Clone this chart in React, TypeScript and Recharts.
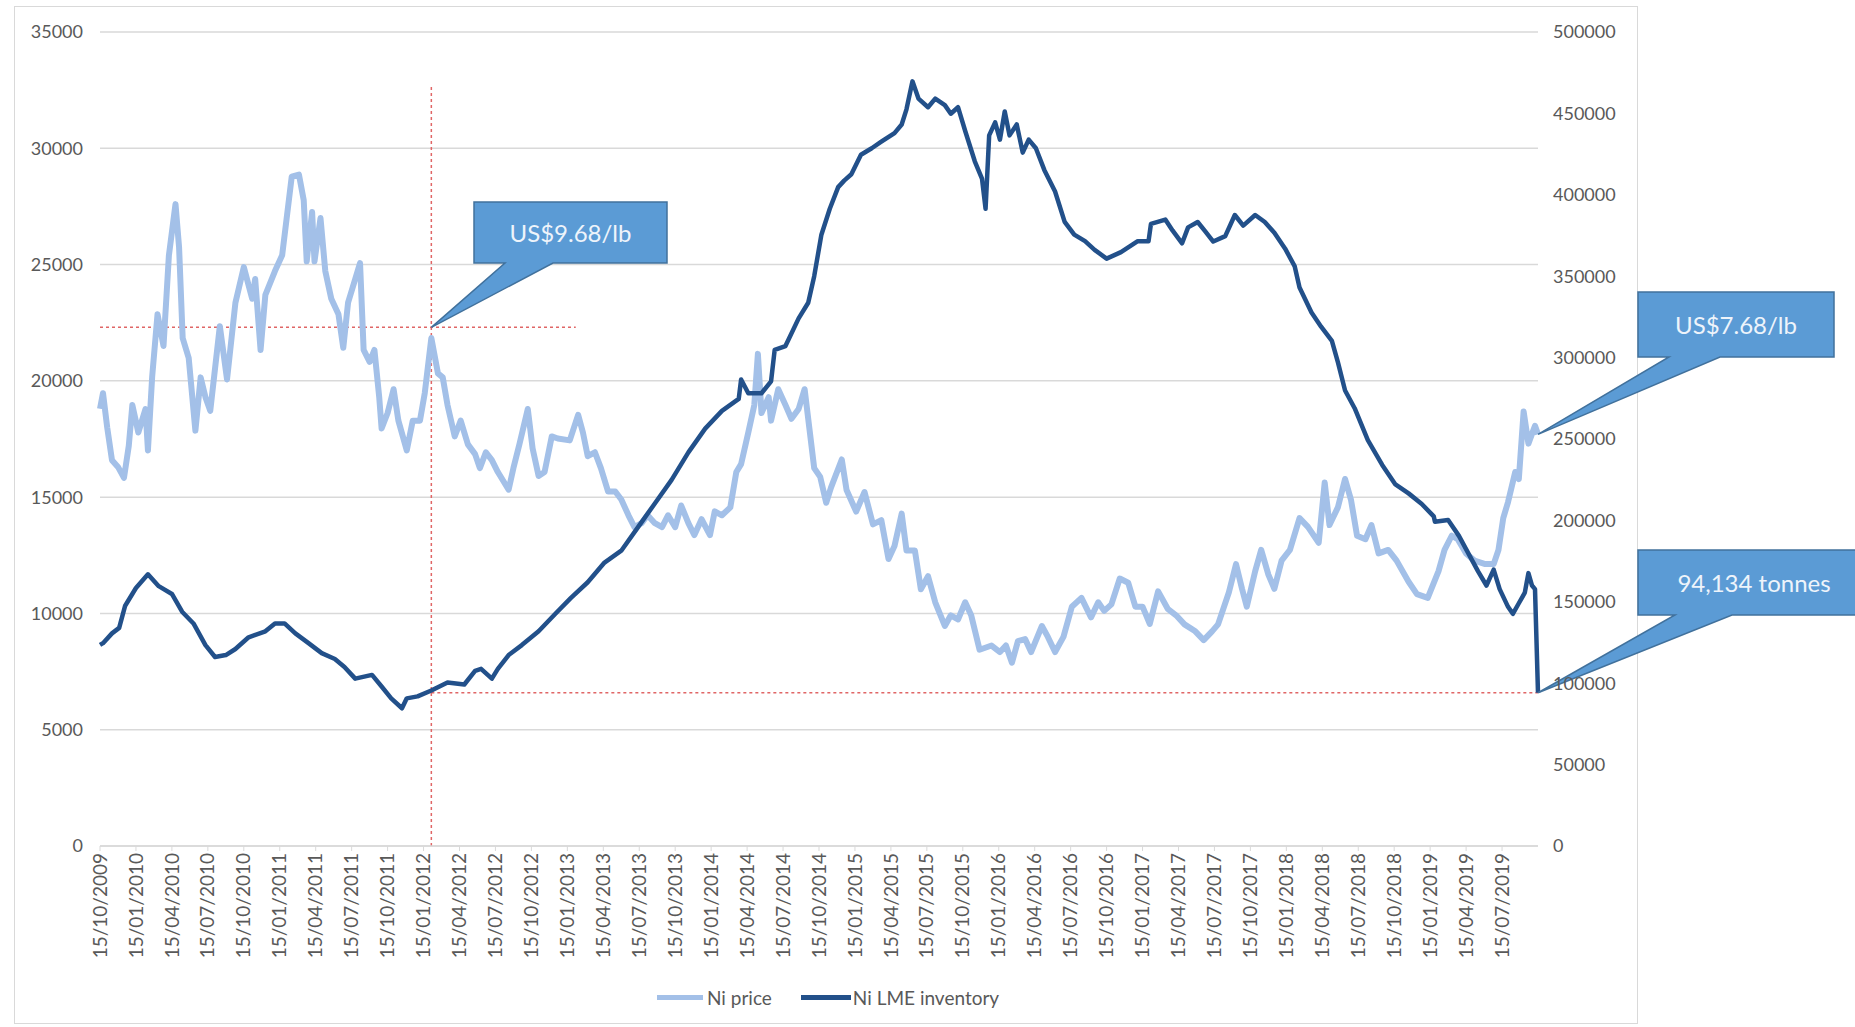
import React from 'react';
import {
  LineChart, Line, XAxis, YAxis, CartesianGrid, ReferenceLine, ReferenceDot,
} from 'recharts';

// x = months since 15/10/2009
const priceSeries: [number, number][] = [
  [0, 18800], [0.25, 19470], [0.6, 18000], [1.0, 16590], [1.5, 16300], [2.0, 15830], [2.4, 17200],
  [2.7, 18960], [3.2, 17780], [3.8, 18790], [4.0, 17010], [4.35, 20150], [4.8, 22860], [5.3, 21500],
  [5.75, 25400], [6.3, 27600], [6.6, 25730], [6.9, 21840], [7.4, 20990], [7.96, 17860], [8.4, 20150],
  [8.8, 19300], [9.2, 18710], [10.0, 22350], [10.6, 20060], [11.3, 23360], [12.0, 24890], [12.7, 23530],
  [12.95, 24380], [13.4, 21330], [13.8, 23700], [14.6, 24720], [15.2, 25400], [16.0, 28780], [16.6, 28870],
  [17.0, 27770], [17.25, 25140], [17.7, 27260], [17.9, 25140], [18.4, 27000], [18.8, 24720], [19.3, 23530],
  [19.9, 22860], [20.3, 21420], [20.7, 23360], [21.1, 24040], [21.7, 25060], [22.0, 21330], [22.5, 20820],
  [22.9, 21330], [23.3, 19300], [23.5, 17950], [24.0, 18620], [24.5, 19640], [24.9, 18290], [25.6, 17010],
  [26.1, 18290], [26.7, 18290], [27.1, 19470], [27.65, 21840], [28.2, 20320], [28.6, 20150], [29.0, 18960],
  [29.6, 17610], [30.1, 18290], [30.7, 17270], [31.3, 16850], [31.7, 16250], [32.2, 16930], [32.7, 16590],
  [33.2, 16080], [34.1, 15320], [34.5, 16250], [35.0, 17270], [35.7, 18790], [36.1, 17100], [36.6, 15910],
  [37.1, 16080], [37.7, 17610], [38.2, 17520], [39.2, 17440], [39.9, 18540], [40.3, 17780], [40.7, 16760],
  [41.3, 16930], [41.8, 16250], [42.4, 15240], [43.0, 15240], [43.5, 14900], [44.1, 14220], [44.6, 13710],
  [45.2, 13880], [45.7, 14220], [46.3, 13880], [46.9, 13710], [47.4, 14220], [48.0, 13710], [48.5, 14640],
  [49.1, 13880], [49.6, 13370], [50.2, 14050], [50.9, 13370], [51.3, 14390], [51.9, 14220], [52.6, 14560],
  [53.1, 16080], [53.5, 16420], [54.1, 17780], [54.6, 18960], [54.9, 21160], [55.2, 18620], [55.8, 19300],
  [56.0, 18290], [56.6, 19640], [57.2, 18960], [57.7, 18370], [58.3, 18790], [58.8, 19640], [59.2, 17950],
  [59.6, 16250], [60.1, 15870], [60.6, 14760], [61.0, 15410], [61.9, 16620], [62.3, 15310], [63.1, 14380],
  [63.8, 15220], [64.5, 13830], [65.2, 14010], [65.8, 12340], [66.3, 12900], [66.9, 14290], [67.3, 12710],
  [68.0, 12710], [68.5, 11040], [69.1, 11600], [69.7, 10480], [70.5, 9460], [71.0, 9920], [71.6, 9740],
  [72.2, 10480], [72.7, 9920], [73.4, 8440], [74.4, 8620], [75.1, 8340], [75.6, 8620], [76.1, 7880],
  [76.6, 8810], [77.2, 8900], [77.7, 8340], [78.6, 9460], [79.1, 8990], [79.7, 8340], [80.4, 8990],
  [81.1, 10290], [81.9, 10670], [82.7, 9830], [83.3, 10480], [83.8, 10110], [84.4, 10390], [85.1, 11500],
  [85.8, 11320], [86.4, 10290], [87.0, 10290], [87.6, 9550], [88.3, 10950], [89.1, 10200], [89.8, 9920],
  [90.5, 9530], [91.4, 9230], [92.1, 8850], [92.8, 9230], [93.3, 9530], [94.2, 10900], [94.8, 12120],
  [95.3, 11060], [95.7, 10290], [96.4, 11820], [96.9, 12730], [97.5, 11670], [98.0, 11060], [98.6, 12270],
  [99.3, 12730], [100.1, 14100], [100.8, 13720], [101.7, 13040], [102.2, 15630], [102.6, 13800],
  [103.3, 14560], [103.9, 15780], [104.4, 14870], [104.9, 13340], [105.6, 13190], [106.1, 13800],
  [106.7, 12580], [107.5, 12730], [108.2, 12270], [109.2, 11360], [109.9, 10830], [110.8, 10670],
  [111.7, 11820], [112.2, 12730], [112.8, 13340], [113.3, 13190], [114.0, 12580], [114.7, 12270],
  [115.6, 12120], [116.3, 12120], [116.7, 12730], [117.1, 14100], [117.5, 14790], [118.1, 16080],
  [118.4, 15780], [118.8, 18680], [119.2, 17300], [119.75, 18070], [120, 17700],
];

const inventorySeries: [number, number][] = [
  [0, 123500], [0.25, 124600], [1.0, 130600], [1.6, 134000], [2.1, 147600], [3.0, 158500], [4.0, 166900],
  [4.9, 159600], [6.0, 154800], [6.85, 143900], [7.8, 136700], [8.8, 123400], [9.6, 116100], [10.5, 117300],
  [11.3, 121000], [12.4, 128200], [13.8, 131900], [14.6, 136700], [15.4, 136700], [16.3, 130600],
  [17.4, 124600], [18.5, 118500], [19.6, 114900], [20.4, 110000], [21.3, 102800], [22.7, 105100],
  [23.5, 98000], [24.3, 90700], [25.2, 84600], [25.6, 90700], [26.5, 91900], [27.65, 95500], [29.0, 100400],
  [30.4, 99200], [31.3, 107600], [31.8, 108800], [32.7, 102800], [33.2, 108800], [34.1, 117300],
  [35.2, 123400], [36.6, 131900], [38.0, 142700], [39.3, 152400], [40.7, 162000], [42.1, 174100],
  [43.5, 181400], [44.9, 195900], [46.3, 210400], [47.7, 224900], [49.1, 241800], [50.5, 256400],
  [51.9, 267300], [53.3, 274600], [53.5, 286600], [54.1, 278100], [55.2, 278100], [56.0, 285400],
  [56.3, 304700], [57.2, 307100], [58.3, 324100], [59.1, 333700], [59.6, 350000], [60.2, 375500],
  [60.9, 391400], [61.6, 404700], [62.1, 408700], [62.7, 412600], [63.5, 424600], [64.4, 428600],
  [65.2, 432600], [66.3, 437900], [66.9, 443200], [67.3, 452500], [67.8, 469700], [68.3, 459100],
  [69.1, 453800], [69.7, 459100], [70.5, 455100], [71.0, 449800], [71.6, 453800], [72.2, 439200],
  [73.0, 420600], [73.6, 410000], [73.9, 391400], [74.2, 436500], [74.7, 444500], [75.1, 433900],
  [75.5, 451200], [75.9, 436500], [76.5, 443200], [77.0, 425900], [77.5, 433900], [78.1, 428600],
  [78.8, 415300], [79.7, 402000], [80.5, 383400], [81.3, 375500], [82.2, 371500], [83.0, 366200],
  [84.0, 360800], [85.2, 364800], [86.6, 371500], [87.5, 371500], [87.7, 382100], [88.9, 384800],
  [89.5, 378100], [90.3, 370200], [90.8, 380000], [91.6, 383300], [92.2, 377800], [92.9, 371300],
  [93.9, 374600], [94.7, 387600], [95.4, 381100], [96.4, 387600], [97.2, 383300], [98.0, 376700],
  [98.9, 366900], [99.7, 356000], [100.1, 343000], [101.1, 327700], [101.9, 319000], [102.8, 310300],
  [103.3, 297200], [103.9, 279800], [104.7, 268900], [105.8, 249300], [107.0, 234100], [108.1, 222100],
  [109.2, 216600], [110.3, 210100], [111.3, 202500], [111.4, 199200], [112.5, 200300], [113.4, 190500],
  [114.2, 179600], [115.0, 168700], [115.7, 160000], [116.3, 169800], [116.8, 157800], [117.5, 146900],
  [117.9, 142600], [118.4, 149100], [118.9, 155600], [119.2, 167600], [119.5, 160000], [119.75, 157800],
  [120, 94134],
];

const quarterLabels = [
  '15/10/2009', '15/01/2010', '15/04/2010', '15/07/2010', '15/10/2010', '15/01/2011', '15/04/2011',
  '15/07/2011', '15/10/2011', '15/01/2012', '15/04/2012', '15/07/2012', '15/10/2012', '15/01/2013',
  '15/04/2013', '15/07/2013', '15/10/2013', '15/01/2014', '15/04/2014', '15/07/2014', '15/10/2014',
  '15/01/2015', '15/04/2015', '15/07/2015', '15/10/2015', '15/01/2016', '15/04/2016', '15/07/2016',
  '15/10/2016', '15/01/2017', '15/04/2017', '15/07/2017', '15/10/2017', '15/01/2018', '15/04/2018',
  '15/07/2018', '15/10/2018', '15/01/2019', '15/04/2019', '15/07/2019',
];
const leftTicks = [0, 5000, 10000, 15000, 20000, 25000, 30000, 35000];
const rightTicks = [0, 50000, 100000, 150000, 200000, 250000, 300000, 350000, 400000, 450000, 500000];

// annotation anchors (data coords)
const markMonth = 27.65;
const markPrice = 22300;
const markTop = 32700;
const markPriceEnd = 39.7;
const lowInventory = 94134;
const lastMonth = 120;
const lastPrice = 17700;

const priceData = priceSeries.map(([m, v]) => ({ m, price: v }));
const inventoryData = inventorySeries.map(([m, v]) => ({ m, inventory: v }));
const xTicks = quarterLabels.map((_, i) => i * 3);

const FONT = 'Lato, "Open Sans", sans-serif';
const TEXT = '#595959';
const GRID = '#D9D9D9';
const RED = '#E06666';
const LIGHT = '#A3C0E8';
const DARK = '#22508A';

function DateTick({ x, y, payload }: any) {
  const label = quarterLabels[Math.round(payload.value / 3)];
  return (
    <text
      x={x}
      y={y}
      transform={`rotate(-90, ${x}, ${y})`}
      textAnchor="end"
      dy="0.35em"
      fill={TEXT}
      fontSize={19}
      fontFamily={FONT}
    >
      {label}
    </text>
  );
}

type Box = { left: number; top: number; right: number; bottom: number; baseL: number; baseR: number };

function Callout({ cx, cy, box, text }: { cx: number; cy: number; box: Box; text: string }) {
  const { left, top, right, bottom, baseL, baseR } = box;
  const d = `M${left},${top} L${right},${top} L${right},${bottom} L${baseR},${bottom} L${cx},${cy} L${baseL},${bottom} L${left},${bottom} Z`;
  return (
    <g>
      <path d={d} fill="#5B9BD5" stroke="#41719C" strokeWidth={1.5} />
      <text
        x={(left + right) / 2}
        y={(top + bottom) / 2}
        textAnchor="middle"
        dominantBaseline="central"
        fill="#EEF4FB"
        fontSize={24}
        fontFamily={FONT}
      >
        {text}
      </text>
    </g>
  );
}

export default function App() {
  return (
    <div style={{ position: 'absolute', left: 0, top: 0, width: 1855, height: 1027, background: '#fff', overflow: 'hidden' }}>
      <div style={{ position: 'absolute', left: 14, top: 6, width: 1624, height: 1018, border: `1.5px solid ${GRID}`, boxSizing: 'border-box' }} />
      <div style={{ position: 'absolute', left: 0, top: 0 }}>
        <LineChart width={1855} height={1027} margin={{ top: 32, right: 0, bottom: 0, left: 0 }}>
          <CartesianGrid yAxisId="left" vertical={false} stroke={GRID} strokeWidth={1.5} />
          <XAxis
            dataKey="m"
            type="number"
            domain={[0, 120]}
            ticks={xTicks}
            interval={0}
            height={181}
            axisLine={{ stroke: GRID, strokeWidth: 1.5 }}
            tickLine={{ stroke: GRID }}
            tickSize={5}
            tickMargin={2}
            tick={<DateTick />}
          />
          <YAxis
            yAxisId="left"
            domain={[0, 35000]}
            ticks={leftTicks}
            width={100}
            axisLine={false}
            tickLine={false}
            tickSize={0}
            tickMargin={17}
            tick={{ fill: TEXT, fontSize: 18, fontFamily: FONT }}
          />
          <YAxis
            yAxisId="right"
            orientation="right"
            domain={[0, 500000]}
            ticks={rightTicks}
            width={317}
            axisLine={false}
            tickLine={false}
            tickSize={0}
            tickMargin={15}
            tick={{ fill: TEXT, fontSize: 18, fontFamily: FONT }}
          />
          <ReferenceLine
            yAxisId="left"
            segment={[{ x: markMonth, y: 0 }, { x: markMonth, y: markTop }]}
            stroke={RED}
            strokeWidth={1.5}
            strokeDasharray="3 3"
            ifOverflow="visible"
          />
          <ReferenceLine
            yAxisId="left"
            segment={[{ x: 0, y: markPrice }, { x: markPriceEnd, y: markPrice }]}
            stroke={RED}
            strokeWidth={1.5}
            strokeDasharray="3 3"
            ifOverflow="visible"
          />
          <ReferenceLine
            yAxisId="right"
            segment={[{ x: markMonth, y: lowInventory }, { x: lastMonth, y: lowInventory }]}
            stroke={RED}
            strokeWidth={1.5}
            strokeDasharray="3 3"
            ifOverflow="visible"
          />
          <Line
            yAxisId="left"
            data={priceData}
            dataKey="price"
            name="Ni price"
            type="linear"
            stroke={LIGHT}
            strokeWidth={6}
            strokeLinejoin="round"
            dot={false}
            isAnimationActive={false}
          />
          <Line
            yAxisId="right"
            data={inventoryData}
            dataKey="inventory"
            name="Ni LME inventory"
            type="linear"
            stroke={DARK}
            strokeWidth={4.5}
            strokeLinejoin="round"
            dot={false}
            isAnimationActive={false}
          />
          <ReferenceDot
            yAxisId="left"
            x={markMonth}
            y={markPrice}
            ifOverflow="visible"
            shape={(p: any) => (
              <Callout cx={p.cx} cy={p.cy} text="US$9.68/lb"
                box={{ left: 474, top: 202, right: 667, bottom: 263, baseL: 505, baseR: 553 }} />
            )}
          />
          <ReferenceDot
            yAxisId="left"
            x={lastMonth}
            y={lastPrice}
            ifOverflow="visible"
            shape={(p: any) => (
              <Callout cx={p.cx} cy={p.cy} text="US$7.68/lb"
                box={{ left: 1638, top: 292, right: 1834, bottom: 357, baseL: 1669, baseR: 1720 }} />
            )}
          />
          <ReferenceDot
            yAxisId="right"
            x={lastMonth}
            y={lowInventory}
            ifOverflow="visible"
            shape={(p: any) => (
              <Callout cx={p.cx} cy={p.cy} text="94,134 tonnes"
                box={{ left: 1638, top: 550, right: 1870, bottom: 615, baseL: 1675, baseR: 1732 }} />
            )}
          />
        </LineChart>
      </div>
      {/* legend */}
      <div style={{ position: 'absolute', left: 657, top: 984, height: 26, display: 'flex', alignItems: 'center', fontFamily: FONT, fontSize: 19, color: TEXT }}>
        <span style={{ display: 'inline-block', width: 46, height: 5, background: LIGHT, marginRight: 4 }} />
        <span>Ni price</span>
        <span style={{ display: 'inline-block', width: 50, height: 5, background: DARK, marginLeft: 29, marginRight: 2 }} />
        <span>Ni LME inventory</span>
      </div>
    </div>
  );
}
